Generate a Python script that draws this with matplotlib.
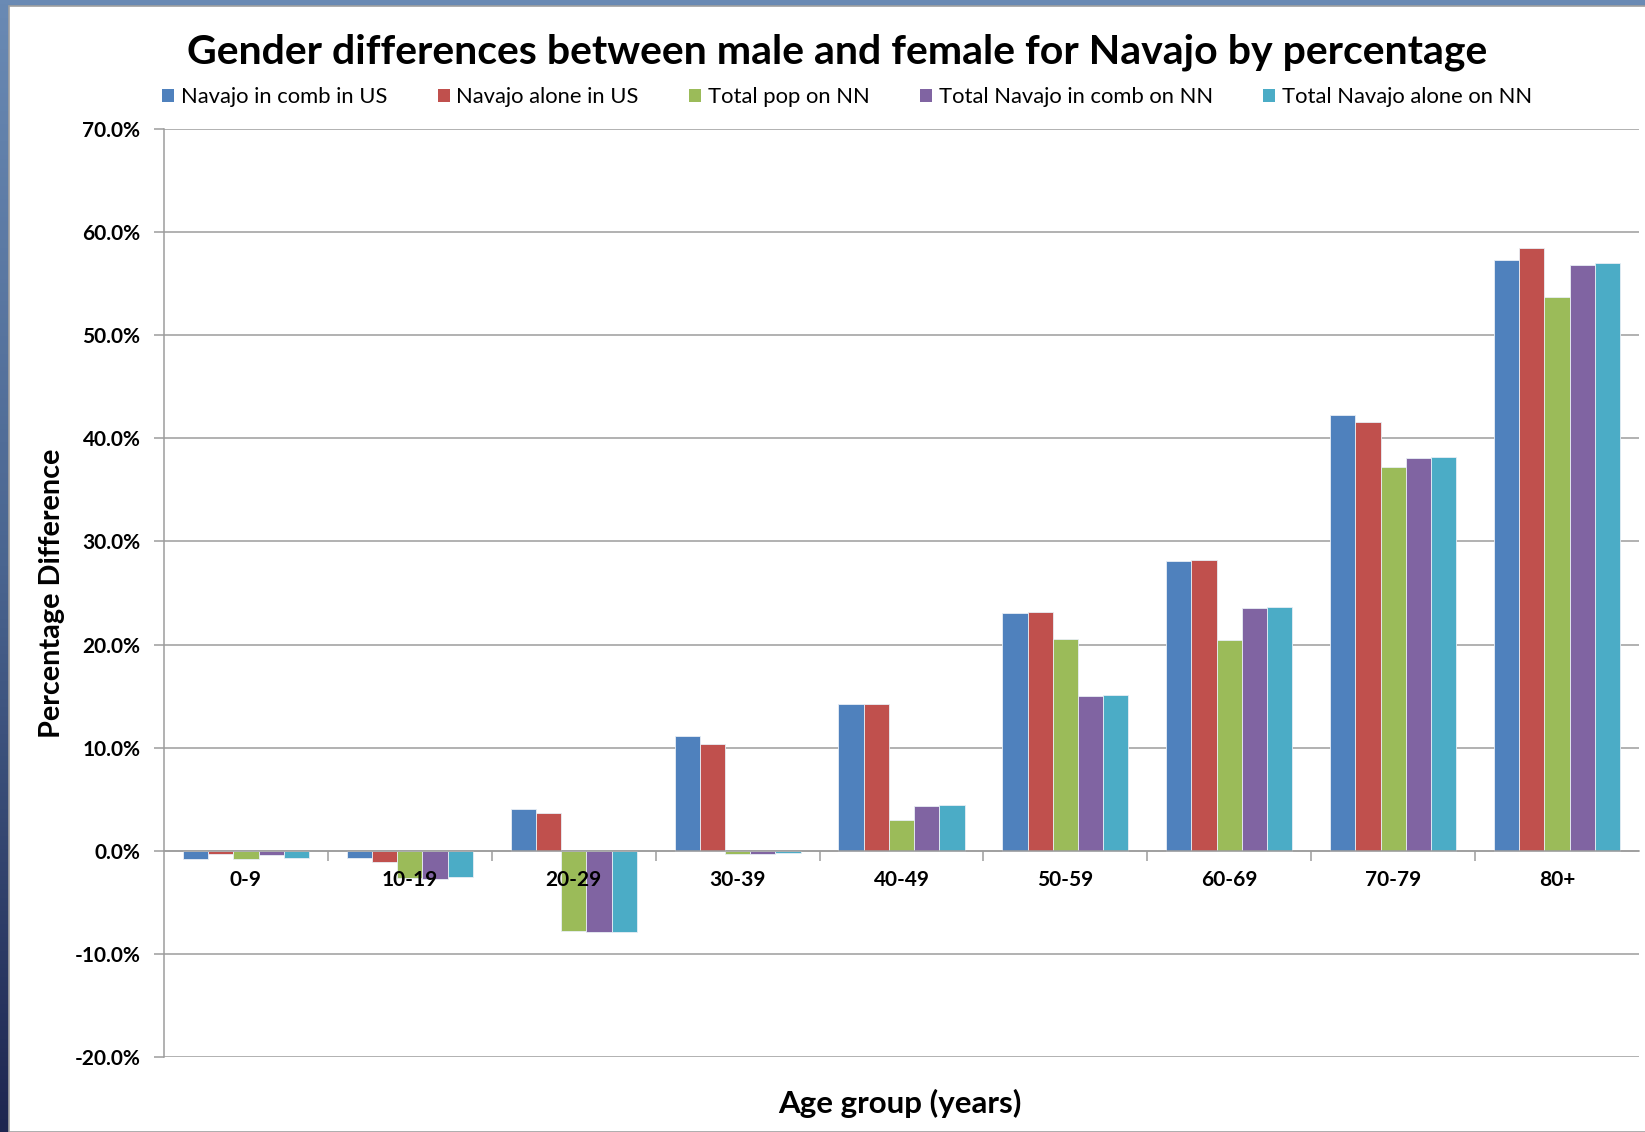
import matplotlib.pyplot as plt
import numpy as np
from matplotlib.patches import Patch, Rectangle
from matplotlib.colors import LinearSegmentedColormap

# data (percent)
age_groups = ['0-9', '10-19', '20-29', '30-39', '40-49', '50-59', '60-69', '70-79', '80+']
series_names = ['Navajo in comb in US', 'Navajo alone in US', 'Total pop on NN',
                'Total Navajo in comb on NN', 'Total Navajo alone on NN']
navajo_comb_us = [-0.8, -0.7, 4.1, 11.1, 14.2, 23.1, 28.1, 42.3, 57.3]
navajo_alone_us = [-0.35, -1.1, 3.65, 10.4, 14.2, 23.2, 28.2, 41.6, 58.5]
total_pop_nn = [-0.8, -2.6, -7.8, -0.3, 3.0, 20.5, 20.4, 37.2, 53.7]
navajo_comb_nn = [-0.45, -2.7, -7.9, -0.3, 4.3, 15.0, 23.5, 38.1, 56.8]
navajo_alone_nn = [-0.7, -2.5, -7.9, -0.2, 4.4, 15.1, 23.6, 38.2, 57.0]
colors = ['#4F81BD', '#C0504D', '#9BBB59', '#8064A2', '#4BACC6']

plt.rcParams['font.family'] = ['Lato', 'DejaVu Sans']

W, H = 1645, 1132
fig = plt.figure(figsize=(W / 100, H / 100), dpi=100)

# blue slide border behind the white chart area
bg = fig.add_axes([0, 0, 1, 1], zorder=-10)
grad = np.linspace(0, 1, 256).reshape(-1, 1)
cm_border = LinearSegmentedColormap.from_list('border', ['#6a8ab4', '#4a6590', '#1e2650'])
bg.imshow(grad, aspect='auto', cmap=cm_border, extent=[0, 1, 0, 1], origin='upper')
bg.set_axis_off()
fig.patches.append(Rectangle((9 / W, 0), 1, 1 - 6 / H, transform=fig.transFigure,
                             facecolor='white', edgecolor='#a0a0a0', linewidth=1.2, zorder=-5))

ax = fig.add_axes([164 / W, 75 / H, (1639 - 164) / W, (1057 - 129) / H])
ax.set_facecolor('none')

series = [navajo_comb_us, navajo_alone_us, total_pop_nn, navajo_comb_nn, navajo_alone_nn]
x = np.arange(len(age_groups))
bw = 1 / (len(series) + 1.5)
for i, (vals, c) in enumerate(zip(series, colors)):
    off = (i - (len(series) - 1) / 2) * bw
    ax.bar(x + off, vals, width=bw, color=c, edgecolor='#e8eef5', linewidth=0.6, zorder=2)

# spine position first: moving it resets the ticks
for s in ['top', 'right']:
    ax.spines[s].set_visible(False)
ax.spines['bottom'].set_position(('data', 0))
ax.spines['bottom'].set_color('#9c9c9c')
ax.spines['bottom'].set_linewidth(1.1)
ax.spines['left'].set_color('#9c9c9c')
ax.spines['left'].set_linewidth(1.1)

ax.set_xlim(-0.5, len(age_groups) - 0.5)
ax.set_ylim(-20, 70)
ax.yaxis.grid(True, color='#9c9c9c', linewidth=1.1, zorder=0)
ax.yaxis.set_zorder(0.5)
ax.tick_params(axis='y', length=7, width=1.1, color='#9c9c9c', pad=10)
ax.tick_params(axis='x', which='major', length=0, pad=14)
ax.tick_params(axis='x', which='minor', length=7, width=1.1, color='#9c9c9c')

yt = np.arange(-20, 71, 10)
ax.set_yticks(yt)
ax.set_yticklabels([f'{v:.1f}%' for v in yt], fontsize=15, fontweight='bold')
ax.set_xticks(np.arange(0.5, len(age_groups) - 0.5, 1), minor=True)
ax.set_xticks(x)
ax.set_xticklabels(age_groups, fontsize=15, fontweight='bold')
ax.xaxis.set_zorder(3)

fig.text(837 / W, 1 - 52 / H, 'Gender differences between male and female for Navajo by percentage',
         ha='center', va='center', fontsize=29.5, fontweight='bold')
fig.text(52 / W, 1 - 593 / H, 'Percentage Difference', rotation=90, ha='center', va='center',
         fontsize=20.7, fontweight='bold')
fig.text(900 / W, 1 - 1103 / H, 'Age group (years)', ha='center', va='center',
         fontsize=22.5, fontweight='bold')

handles = [Patch(facecolor=c, edgecolor='none') for c in colors]
fig.legend(handles, series_names, loc='center', bbox_to_anchor=(847 / W, 1 - 97 / H), ncol=5,
           frameon=False, fontsize=15.8, handlelength=0.55, handleheight=0.55, handletextpad=0.3,
           columnspacing=2.3)

fig.savefig('out.png', dpi=100)
